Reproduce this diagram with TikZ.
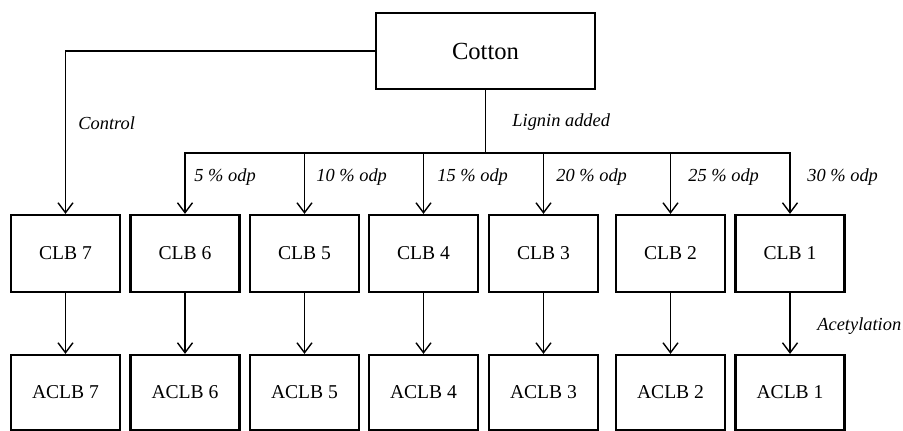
\documentclass[tikz,border=0pt]{standalone}
\usepackage{fontspec}
\setmainfont{Liberation Serif}
\usetikzlibrary{arrows.meta, positioning}

\begin{document}
\begin{tikzpicture}[
    x=0.5pt, y=-0.5pt,
    box/.style={draw, line width=1.1pt, minimum height=38.5pt, minimum width=54.5pt,
                inner sep=0pt, font=\fontsize{9.8}{12}\selectfont, align=center},
    top/.style={draw, line width=1.1pt, minimum height=38pt, minimum width=109.5pt,
                inner sep=0pt, font=\fontsize{12.3}{14}\selectfont},
    lbl/.style={anchor=west, inner sep=0pt, font=\fontsize{9.2}{11}\selectfont\itshape},
    arrow/.style={-{Straight Barb[length=5pt, width=7.5pt]}, line width=0.7pt},
]
\useasboundingbox (0,0) rectangle (903,431);

\node[top] (cotton) at (485.5,51) {Cotton};

\foreach \i/\x in {7/65.5, 6/185, 5/304.5, 4/423.5, 3/543.5, 2/670.5, 1/790} {
  \node[box] (clb\i)  at (\x,253.5) {CLB \i};
  \node[box, minimum height=37.5pt] (aclb\i) at (\x,392.5) {ACLB \i};
  \draw[arrow] (clb\i) -- (aclb\i);
}

\coordinate (split) at (485.5,153);

\draw[arrow] (cotton.west) -| (clb7.north);
\draw[line width=0.7pt] (cotton.south) -- (split);
\foreach \i in {6,...,1}
  \draw[arrow] (split) -| (clb\i.north);

\node[lbl] (control) at (78,123)  {Control};
\node[lbl] (lignin)  at (512,122) {Lignin added};
\node[lbl] (odp6) at (194,177) {5 \% odp};
\node[lbl] (odp5) at (316,177) {10 \% odp};
\node[lbl] (odp4) at (437,177) {15 \% odp};
\node[lbl] (odp3) at (556,177) {20 \% odp};
\node[lbl] (odp2) at (688,177) {25 \% odp};
\node[lbl] (odp1) at (807,177) {30 \% odp};
\node[lbl] (acet) at (817,326) {Acetylation};
\end{tikzpicture}
\end{document}
